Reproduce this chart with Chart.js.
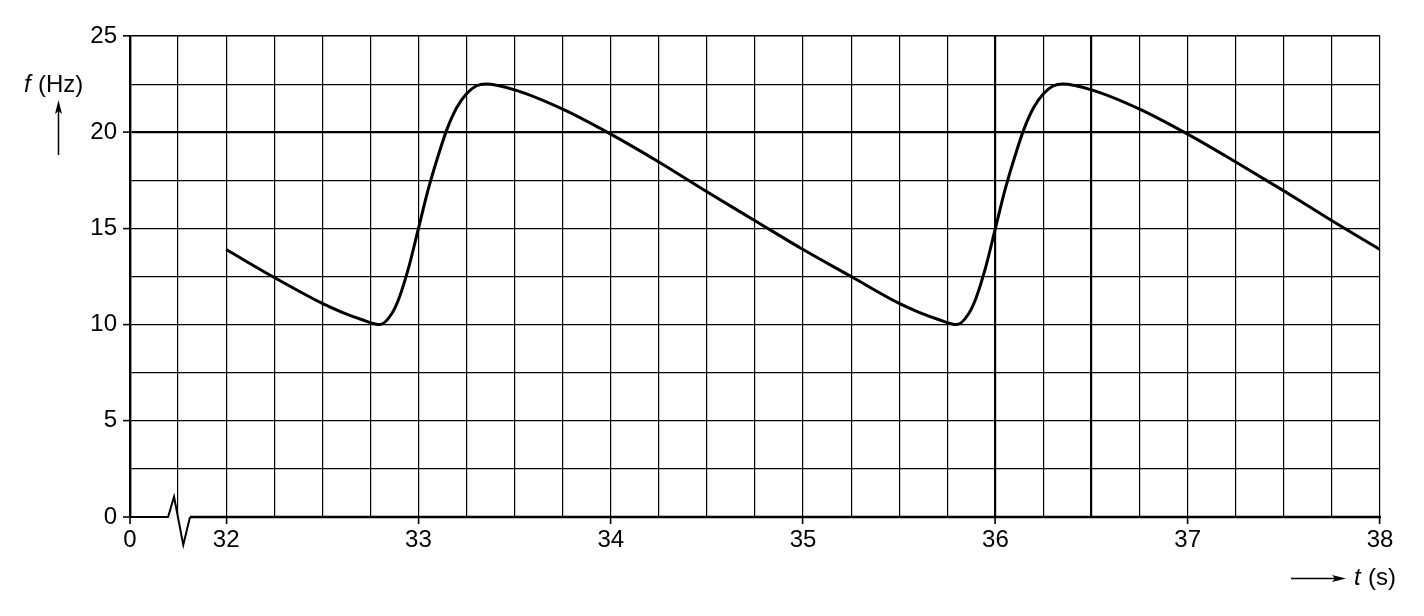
<!DOCTYPE html>
<html>
<head>
<meta charset="utf-8">
<script src="https://cdn.jsdelivr.net/npm/chart.js@4.4.1/dist/chart.umd.min.js"></script>
<style>
  html, body { margin: 0; padding: 0; background: #fff; }
  #wrap { width: 1424px; height: 616px; }
</style>
</head>
<body>
<div id="wrap"><canvas id="freq-chart"></canvas></div>
<script>
// time (s) and frequency (Hz)
var timeS = [32, 32.25, 32.5, 32.6, 32.7, 32.8, 32.86, 32.9, 32.95, 33, 33.05, 33.1, 33.15, 33.2, 33.25, 33.3, 33.35,
  33.5, 33.75, 34, 34.25, 34.5, 34.75, 35, 35.25, 35.5, 35.6, 35.7, 35.8, 35.86, 35.9, 35.95, 36, 36.05, 36.1,
  36.15, 36.2, 36.25, 36.3, 36.35, 36.5, 36.75, 37, 37.25, 37.5, 37.75, 38];
var freqHz = [13.9, 12.45, 11.1, 10.65, 10.28, 10.0, 10.55, 11.4, 13.0, 15.0, 17.0, 18.7, 20.2, 21.3, 22.0, 22.4, 22.5,
  22.2, 21.2, 19.9, 18.45, 16.9, 15.4, 13.9, 12.5, 11.1, 10.65, 10.28, 10.0, 10.55, 11.4, 13.0, 15.0, 17.0, 18.7,
  20.2, 21.3, 22.0, 22.4, 22.5, 22.2, 21.2, 19.9, 18.45, 16.95, 15.4, 13.9];

// tick labels: t axis is broken, 0 then 32..38
var tLabels = [0, 32, 33, 34, 35, 36, 37, 38];
var fLabels = [0, 5, 10, 15, 20, 25];

// the gap 0..32 is squeezed so 32 sits half a second right of 0
var tShift = 31.5;

function near(a, b) { return Math.abs(a - b) < 1e-6; }

function tOf(u) { return near(u, 0) ? 0 : u + tShift; }

function isLabelT(u) {
  var t = tOf(u);
  return tLabels.some(function (v) { return near(v, t); });
}

var points = timeS.map(function (t, i) { return { x: t - tShift, y: freqHz[i] }; });

var FONT = '"Liberation Sans", Arial, sans-serif';

// broken baseline, axis names and arrows
var decorations = {
  id: 'decorations',
  afterDraw: function (chart) {
    var ctx = chart.ctx, xs = chart.scales.x, ys = chart.scales.y;
    var y0 = ys.getPixelForValue(0);
    ctx.save();
    ctx.strokeStyle = '#000';
    ctx.lineJoin = 'miter';

    ctx.lineWidth = 2;
    ctx.beginPath();
    ctx.moveTo(xs.getPixelForValue(0), y0);
    ctx.lineTo(xs.getPixelForValue(0.198), y0);
    ctx.lineTo(xs.getPixelForValue(0.229), ys.getPixelForValue(1.05));
    ctx.lineTo(xs.getPixelForValue(0.277), ys.getPixelForValue(-1.45));
    ctx.lineTo(xs.getPixelForValue(0.312), y0);
    ctx.stroke();

    ctx.lineWidth = 2.6;
    ctx.beginPath();
    ctx.moveTo(xs.getPixelForValue(0.312), y0);
    ctx.lineTo(xs.getPixelForValue(6.5) + 1, y0);
    ctx.stroke();

    // y name
    ctx.fillStyle = '#000';
    ctx.textBaseline = 'middle';
    ctx.font = 'italic 24px ' + FONT;
    ctx.fillText('f', 24, 85);
    ctx.font = '24px ' + FONT;
    ctx.fillText('(Hz)', 38, 85);

    ctx.lineWidth = 1.5;
    ctx.beginPath();
    ctx.moveTo(58.5, 155);
    ctx.lineTo(58.5, 110);
    ctx.stroke();
    ctx.beginPath();
    ctx.moveTo(58.5, 100);
    ctx.lineTo(62, 114);
    ctx.lineTo(58.5, 111);
    ctx.lineTo(55, 114);
    ctx.closePath();
    ctx.fill();

    // x name
    ctx.beginPath();
    ctx.moveTo(1291, 578.5);
    ctx.lineTo(1335, 578.5);
    ctx.stroke();
    ctx.beginPath();
    ctx.moveTo(1346, 578.5);
    ctx.lineTo(1332, 575);
    ctx.lineTo(1335, 578.5);
    ctx.lineTo(1332, 582);
    ctx.closePath();
    ctx.fill();

    ctx.font = 'italic 24px ' + FONT;
    ctx.fillText('t', 1354, 578);
    ctx.font = '24px ' + FONT;
    ctx.fillText('(s)', 1368, 578);
    ctx.restore();
  }
};

var ctx = document.getElementById('freq-chart');

var chart = new Chart(ctx, {
  type: 'line',
  data: {
    datasets: [{
      data: points,
      borderColor: '#000',
      borderWidth: 3,
      pointRadius: 0,
      fill: false,
      cubicInterpolationMode: 'monotone'
    }]
  },
  options: {
    responsive: true,
    maintainAspectRatio: false,
    animation: false,
    layout: { padding: { top: 36, right: 44, left: 0, bottom: 0 } },
    plugins: { legend: { display: false }, tooltip: { enabled: false } },
    scales: {
      x: {
        type: 'linear',
        min: 0,
        max: 6.5,
        afterFit: function (s) { s.height = 99; },
        ticks: {
          stepSize: 0.25,
          autoSkip: false,
          maxRotation: 0,
          padding: 2,
          color: '#000',
          font: { family: FONT, size: 24 },
          callback: function (v) { return isLabelT(v) ? String(tOf(v)) : ''; }
        },
        grid: {
          color: '#000',
          lineWidth: function (c) {
            var u = c.tick.value;
            if (near(u, 0)) return 0;
            var t = u + tShift;
            if (near(t, 36) || near(t, 36.5)) return 2.2;
            return 1.2;
          },
          tickLength: 7,
          tickColor: '#000',
          tickWidth: function (c) { return isLabelT(c.tick.value) ? 1.6 : 0; }
        },
        border: { display: false }
      },
      y: {
        min: 0,
        max: 25,
        afterFit: function (s) { s.width = 130; },
        ticks: {
          stepSize: 2.5,
          padding: 6,
          color: '#000',
          font: { family: FONT, size: 24 },
          callback: function (v) { return fLabels.indexOf(v) >= 0 ? String(v) : ''; }
        },
        grid: {
          color: '#000',
          lineWidth: function (c) {
            var v = c.tick.value;
            if (v === 0) return 0;
            if (v === 20) return 2.2;
            if (v === 25) return 1.6;
            return 1.2;
          },
          tickLength: 7,
          tickColor: '#000',
          tickWidth: function (c) { return fLabels.indexOf(c.tick.value) >= 0 ? 1.6 : 0; }
        },
        border: { display: true, color: '#000', width: 2.4 }
      }
    }
  },
  plugins: [decorations]
});
</script>
</body>
</html>
